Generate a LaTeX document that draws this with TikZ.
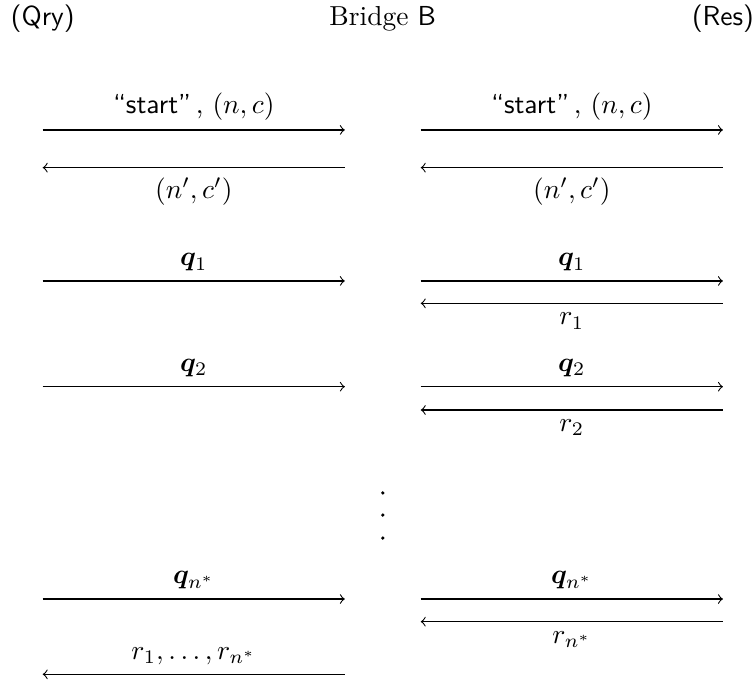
\documentclass[tikz,border=0pt]{standalone}
\usepackage{amsmath,amssymb,bm}
\usetikzlibrary{arrows.meta,positioning,calc}
\tikzset{
  >=to,
  party/.style={anchor=base,inner sep=0pt},
  msg/.style={->,line width=0.4pt},
  vdot/.style={circle,fill=black,inner sep=0pt,minimum size=1.3pt},
}

\begin{document}
\begin{tikzpicture}
\useasboundingbox (0,0) rectangle (9.655,-8.72);
% columns: querier, bridge (left/right side), responder
\foreach \r/\y in {1/-1.662,2/-2.144,3/-3.593,4/-3.879,5/-4.945,6/-5.243,7/-7.660,8/-7.950,9/-8.623}{
  \coordinate (qry\r) at (0.546,\y);
  \coordinate (bl\r) at (4.41,\y);
  \coordinate (br\r) at (5.38,\y);
  \coordinate (res\r) at (9.245,\y);
}
\node[party] (qryh) at (0.546,-0.32) {\textsf{(Qry)}};
\node[party] (bridge) at (4.895,-0.32) {Bridge \textsf{B}};
\node[party] (resh) at (9.245,-0.32) {\textsf{(Res)}};
% handshake
\draw[msg] (qry1) -- node[above] {\textsf{``start''}\,, $(n,c)$} (bl1);
\draw[msg] (br1) -- node[above] {\textsf{``start''}\,, $(n,c)$} (res1);
\draw[msg] (bl2) -- node[below] {$(n',c')$} (qry2);
\draw[msg] (res2) -- node[below] {$(n',c')$} (br2);
% queries
\draw[msg] (qry3) -- node[above] {$\bm{q}_1$} (bl3);
\draw[msg] (br3) -- node[above] {$\bm{q}_1$} (res3);
\draw[msg] (res4) -- node[below] {$r_1$} (br4);
\draw[msg] (qry5) -- node[above] {$\bm{q}_2$} (bl5);
\draw[msg] (br5) -- node[above] {$\bm{q}_2$} (res5);
\draw[msg] (res6) -- node[below] {$r_2$} (br6);
\foreach \i/\y in {1/-6.304,2/-6.586,3/-6.880}
  \node[vdot] (dot\i) at (4.895,\y) {};
\draw[msg] (qry7) -- node[above] {$\bm{q}_{n^*}$} (bl7);
\draw[msg] (br7) -- node[above] {$\bm{q}_{n^*}$} (res7);
\draw[msg] (res8) -- node[below] {$r_{n^*}$} (br8);
\draw[msg] (bl9) -- node[above] {$r_1,\dots,r_{n^*}$} (qry9);
\end{tikzpicture}
\end{document}
